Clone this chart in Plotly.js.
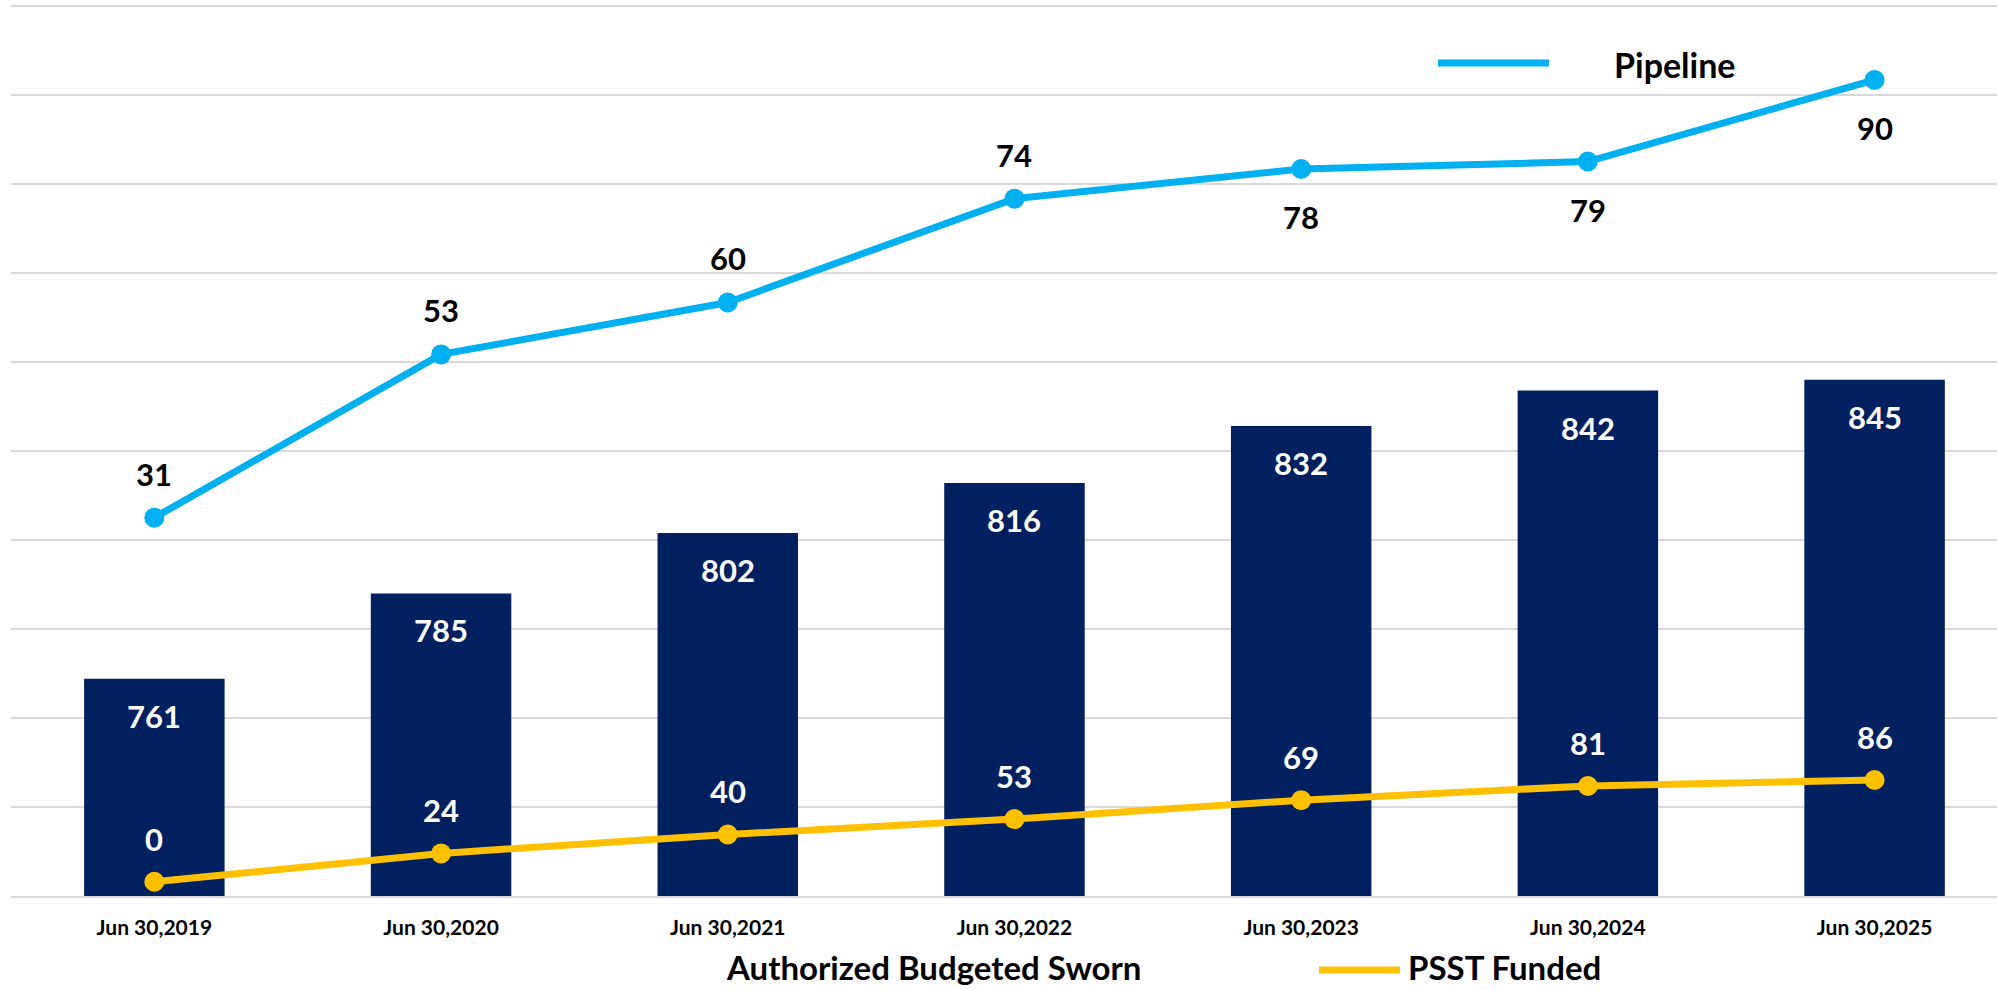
<!DOCTYPE html>
<html>
<head>
<meta charset="utf-8">
<script src="https://cdn.plot.ly/plotly-3.0.1.min.js"></script>
<style>
  html, body { margin: 0; padding: 0; background: #ffffff; }
  #chart { width: 1997px; height: 990px; }
</style>
</head>
<body>
<div id="chart"></div>
<script>
// ---- data ----
const categories = ["Jun 30,2019", "Jun 30,2020", "Jun 30,2021", "Jun 30,2022", "Jun 30,2023", "Jun 30,2024", "Jun 30,2025"];
const authorizedSworn = [761, 785, 802, 816, 832, 842, 845];
const pipeline = [31, 53, 60, 74, 78, 79, 90];
const psstFunded = [0, 24, 40, 53, 69, 81, 86];

const seriesNames = {
  bars: "Authorized Budgeted Sworn",
  pipeline: "Pipeline",
  psst: "PSST Funded"
};

// label placement for pipeline values (style only)
const pipelineLabelSide = ["above", "above", "above", "above", "below", "below", "below"];

// ---- styles ----
const FONT = "Lato, 'Open Sans', sans-serif";
const NAVY = "#002060";
const BLUE = "#00B0F0";
const GOLD = "#FFC000";
const GRID = "#D9D9D9";

const W = 1997, H = 990;
const M = { l: 11, r: 0, t: 5, b: 94 };
const plotW = W - M.l - M.r, plotH = H - M.t - M.b;
const px = x => (x - M.l) / plotW;
const py = y => (H - M.b - y) / plotH;

const traces = [
  {
    type: "bar",
    name: seriesNames.bars,
    x: categories,
    y: authorizedSworn,
    marker: { color: NAVY },
    yaxis: "y",
    showlegend: false,
    hoverinfo: "x+y"
  },
  {
    type: "scatter",
    mode: "lines+markers",
    name: seriesNames.pipeline,
    x: categories,
    y: pipeline,
    yaxis: "y2",
    line: { color: BLUE, width: 7 },
    marker: { color: BLUE, size: 20 },
    showlegend: false
  },
  {
    type: "scatter",
    mode: "lines+markers",
    name: seriesNames.psst,
    x: categories,
    y: psstFunded,
    yaxis: "y3",
    line: { color: GOLD, width: 7 },
    marker: { color: GOLD, size: 20 },
    showlegend: false
  }
];

const annotations = [];
categories.forEach((c, i) => {
  annotations.push({
    x: c, y: authorizedSworn[i], xref: "x", yref: "y",
    text: String(authorizedSworn[i]), showarrow: false,
    yshift: -37, font: { family: FONT, size: 31, color: "#ffffff", weight: 700 }
  });
  annotations.push({
    x: c, y: pipeline[i], xref: "x", yref: "y2",
    text: String(pipeline[i]), showarrow: false,
    yshift: pipelineLabelSide[i] === "above" ? 44 : -48,
    font: { family: FONT, size: 31, color: "#000000", weight: 700 }
  });
  annotations.push({
    x: c, y: psstFunded[i], xref: "x", yref: "y3",
    text: String(psstFunded[i]), showarrow: false,
    yshift: 43, font: { family: FONT, size: 31, color: "#ffffff", weight: 700 }
  });
});

// manual legend entries
annotations.push({
  xref: "paper", yref: "paper", x: px(1612), y: py(64), xanchor: "left", yanchor: "middle",
  text: seriesNames.pipeline, showarrow: false,
  font: { family: FONT, size: 34, color: "#000000", weight: 700 }
});
annotations.push({
  xref: "paper", yref: "paper", x: px(933), y: py(967), xanchor: "center", yanchor: "middle",
  text: seriesNames.bars, showarrow: false,
  font: { family: FONT, size: 33, color: "#000000", weight: 700 }
});
annotations.push({
  xref: "paper", yref: "paper", x: px(1406), y: py(967), xanchor: "left", yanchor: "middle",
  text: seriesNames.psst, showarrow: false,
  font: { family: FONT, size: 33, color: "#000000", weight: 700 }
});

const shapes = [
  { type: "line", xref: "paper", yref: "paper", x0: px(1438), x1: px(1549), y0: py(63), y1: py(63),
    line: { color: BLUE, width: 7 } },
  { type: "line", xref: "paper", yref: "paper", x0: px(1319), x1: px(1400), y0: py(970), y1: py(970),
    line: { color: GOLD, width: 7 } }
];

const layout = {
  width: W, height: H,
  margin: M,
  paper_bgcolor: "#ffffff",
  plot_bgcolor: "#ffffff",
  font: { family: FONT, color: "#000000" },
  bargap: 0.51,
  showlegend: false,
  xaxis: {
    type: "category",
    range: [-0.5, 6.427],
    showgrid: false,
    zeroline: false,
    showline: true,
    linecolor: GRID,
    linewidth: 2,
    ticks: "",
    ticklabelstandoff: 12,
    tickfont: { family: FONT, size: 21, color: "#000000", weight: 700 }
  },
  yaxis: {
    range: [700, 950.3],
    dtick: 25,
    tick0: 700,
    showgrid: true,
    gridcolor: GRID,
    gridwidth: 1.5,
    zeroline: false,
    showticklabels: false,
    ticks: ""
  },
  yaxis2: {
    overlaying: "y",
    range: [-20, 100.1],
    visible: false,
    showgrid: false,
    zeroline: false
  },
  yaxis3: {
    overlaying: "y",
    range: [-12, 741],
    visible: false,
    showgrid: false,
    zeroline: false
  },
  annotations: annotations,
  shapes: shapes
};

Plotly.newPlot("chart", traces, layout, { displayModeBar: false, responsive: false });
</script>
</body>
</html>
